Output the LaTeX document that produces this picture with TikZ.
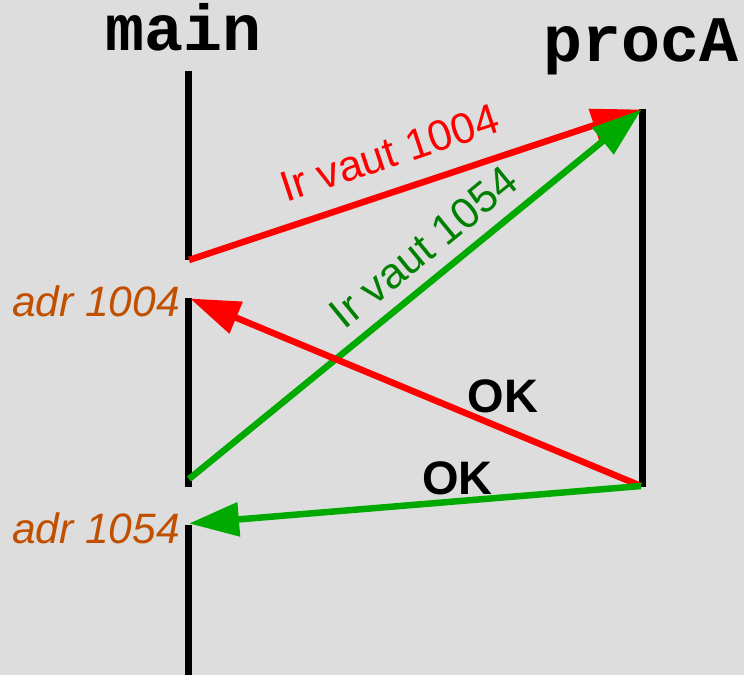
\documentclass[tikz,border=0pt]{standalone}
\usepackage{fontspec}
\setmainfont{Liberation Sans}
\setmonofont{Liberation Mono}
\usetikzlibrary{arrows.meta}
\definecolor{bg}{HTML}{DDDDDD}
\definecolor{lred}{HTML}{FF0000}
\definecolor{lgreen}{HTML}{00AA00}
\definecolor{tgreen}{HTML}{008000}
\definecolor{adrc}{HTML}{C05000}
\begin{document}
\begin{tikzpicture}[x=1pt,y=-1pt,
  life/.style={line width=7pt, draw=black},
  msg/.style={line width=6.5pt, -{Triangle[length=50pt,width=33pt]}},
  lbl/.style={font=\fontsize{43}{43}\selectfont, inner sep=0pt},
  oklbl/.style={font=\fontsize{47}{47}\selectfont\bfseries, inner sep=0pt, text=black},
  adr/.style={font=\fontsize{42.5}{42.5}\selectfont\itshape, text=adrc, inner sep=0pt, anchor=base east},
  title/.style={font=\fontsize{65}{65}\selectfont\ttfamily\bfseries, inner sep=0pt, anchor=base}]
\fill[bg] (0,0) rectangle (744,675);
\useasboundingbox (0,0) rectangle (744,675);

% titles
\node[title] (tmain) at (184,50) {main};
\node[title] (tproc) at (641,61) {procA};

% lifelines
\coordinate (m0) at (188.5,71);
\coordinate (m1) at (188.5,260);
\coordinate (m2) at (188.5,298);
\coordinate (m3) at (188.5,487);
\coordinate (m4) at (188.5,525);
\coordinate (m5) at (188.5,675);
\coordinate (p0) at (642,109);
\coordinate (p1) at (642,487);
\draw[life] (m0) -- (m1);
\draw[life] (m2) -- (m3);
\draw[life] (m4) -- (m5);
\draw[life] (p0) -- (p1);

% message end points
\coordinate (r1s) at (189,260);
\coordinate (tipA) at (641.5,109.5);
\coordinate (g1s) at (189,479);
\coordinate (rets) at (641,486);
\coordinate (r2e) at (190,298.5);
\coordinate (g2e) at (189,523.5);

% messages
\draw[msg, lred] (r1s) -- node[lbl, text=lred, pos=0.47, sloped, above=20pt] (l1) {Ir vaut 1004} (tipA);
\draw[msg, lgreen] (g1s) -- node[lbl, text=tgreen, pos=0.562, sloped, above=13pt] (l2) {Ir vaut 1054} (tipA);
\draw[msg, lred] (rets) -- node[oklbl, pos=0.306, anchor=base, yshift=16.5pt] (ok1) {OK} (r2e);
\draw[msg, lgreen] (rets) -- node[oklbl, pos=0.406, anchor=base, yshift=6.4pt] (ok2) {OK} (g2e);

% addresses
\node[adr] (a1) at (180,316.7) {adr 1004};
\node[adr] (a2) at (180,543) {adr 1054};
\end{tikzpicture}
\end{document}
